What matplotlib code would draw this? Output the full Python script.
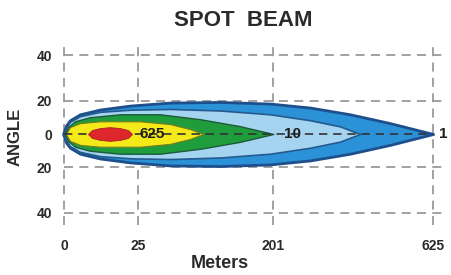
import matplotlib

matplotlib.use("Agg")
import matplotlib.pyplot as plt
import numpy as np

plt.rcParams["font.family"] = ["Liberation Sans", "DejaVu Sans"]

# beam profiles: distance (m) and half-width (deg)
outer_x = [-0.004, 0.001, 0.018, 0.165, 1.18, 5.95, 20.0, 51.6, 111.7, 194.8, 277.8, 375.5, 488, 625]
outer_w = [0, 3.5, 6.5, 9.7, 13.0, 15.5, 17.5, 19.0, 19.3, 18.5, 16.5, 13.0, 8.0, 0]

light_x = [0, 0.018, 0.165, 1.18, 5.95, 20.0, 51.6, 111.7, 194.8, 277.8, 349.7, 402]
light_w = [0, 4.9, 8.8, 12.0, 14.3, 15.4, 15.8, 15.0, 13.0, 9.7, 6.0, 0]

green_x = [0.004, 0.073, 0.556, 3.10, 14.4, 42.3, 84.9, 142, 201]
green_w = [0, 5.5, 9.1, 11.4, 13.0, 13.0, 10.3, 6.15, 0]

yellow_x = [0.018, 0.165, 1.18, 5.95, 26.5, 51.6, 72.9, 88.7]
yellow_w = [0, 5.5, 8.0, 9.1, 9.1, 7.4, 4.2, 0]

red_x = [2.64, 3.6, 5.95, 9.71, 14.4, 18.8, 21.2]
red_w = [0, 3.5, 4.9, 5.5, 4.9, 3.5, 0]

# lux labels inside the beam
lux_labels = ["625", "10", "1"]
lux_x = [35.5, 240, 645]

x_ticks = [0, 25, 201, 625]
y_ticks = [-40, -20, 0, 20, 40]
y_ticklabels = ["40", "20", "0", "20", "40"]

text_color = "#2a2a2a"
grid_color = "#9a9a9a"


def fwd_x(x):
    x = np.asarray(x, dtype=float)
    return np.sign(x) * np.sqrt(np.abs(x))


def inv_x(y):
    y = np.asarray(y, dtype=float)
    return np.sign(y) * y**2


def fwd_y(y):
    y = np.asarray(y, dtype=float)
    return np.sign(y) * np.abs(y) ** 1.23


def inv_y(v):
    v = np.asarray(v, dtype=float)
    return np.sign(v) * np.abs(v) ** (1 / 1.23)


fig = plt.figure(figsize=(4.52, 2.75), dpi=100)
ax = fig.add_axes([62 / 452, 47 / 275, 383 / 452, 188 / 275])
ax.set_xscale("function", functions=(fwd_x, inv_x))
ax.set_yscale("function", functions=(fwd_y, inv_y))

# grid
ax.vlines(x_ticks, -45, 45.5, colors=grid_color, linestyles=(0, (5, 3.5)), lw=1.3, zorder=1)
ax.hlines([-40, -20, 20, 40], 0, 659, colors=grid_color, linestyles=(0, (5, 3.5)), lw=1.3, zorder=1)

layers = [
    (outer_x, outer_w, "#2b92d8", "#1d4f8c", 2.0),
    (light_x, light_w, "#a5d4f1", "#245a8e", 1.2),
    (green_x, green_w, "#1f9c3b", "#1c5a3a", 1.0),
    (yellow_x, yellow_w, "#f4ea1a", "#7d7a20", 0.8),
]
for i, (xs, ws, fc, ec, lw) in enumerate(layers):
    xs = np.array(xs)
    ws = np.array(ws)
    ax.fill_between(xs, -ws, ws, facecolor=fc, edgecolor=ec, lw=lw, zorder=2 + i)

ax.plot([0, 625], [0, 0], color="#333333", ls=(0, (5, 3.5)), lw=1.2, zorder=7)

rx = np.array(red_x)
rw = np.array(red_w)
ax.fill_between(rx, -rw, rw, facecolor="#de272d", edgecolor="#a52025", lw=0.6, zorder=8)

for lab, lx in zip(lux_labels, lux_x):
    ha = "left" if lab == "1" else "center"
    ax.text(lx, 0, lab, ha=ha, va="center", fontsize=11, fontweight="bold",
            color="#1e1e1e", zorder=9, clip_on=False)

ax.set_xlim(-0.018, 666)
ax.set_ylim(-46.3, 46.3)
ax.set_xticks(x_ticks)
ax.set_xticklabels([str(t) for t in x_ticks], fontsize=10, fontweight="bold", color=text_color)
ax.set_yticks(y_ticks)
ax.set_yticklabels(y_ticklabels, fontsize=10, fontweight="bold", color=text_color)
ax.minorticks_off()
ax.tick_params(length=0, axis="x", pad=8)
ax.tick_params(length=0, axis="y", pad=7)
for s in ax.spines.values():
    s.set_visible(False)

fig.text(243 / 452, 1 - 21 / 275, "SPOT  BEAM", ha="center", va="center",
         fontsize=16, fontweight="bold", color=text_color)
fig.text(15 / 452, 1 - 137 / 275, "ANGLE", ha="center", va="center", rotation=90,
         fontsize=12, fontweight="bold", color=text_color)
fig.text(220 / 452, 1 - 264 / 275, "Meters", ha="center", va="center",
         fontsize=13, fontweight="bold", color=text_color)

fig.savefig("out.png", dpi=100)
